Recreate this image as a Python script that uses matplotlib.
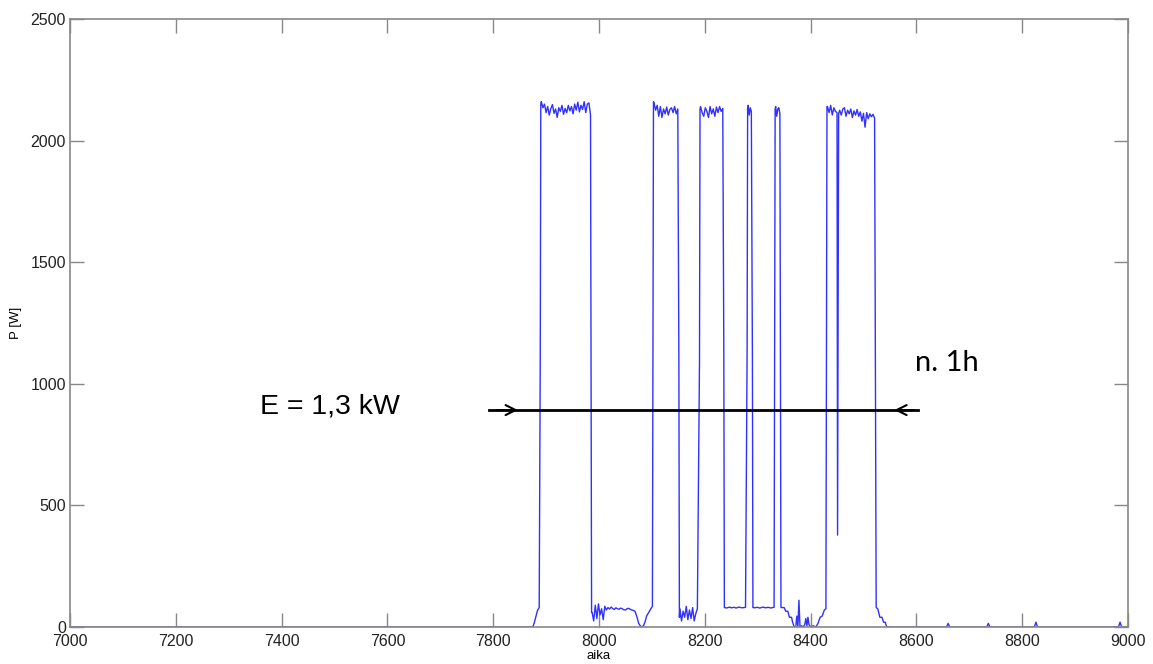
import matplotlib.pyplot as plt

# Power measurement (P [W]) vs time (aika)
# each segment: start time, time step, values
baseline_t = [7000, 7874]
baseline_p = [0, 0]

ramp1_t = [7875, 7878, 7881, 7884, 7887, 7889, 7890]
ramp1_p = [0, 20, 45, 70, 80, 1120, 2150]

top1 = [2160, 2135, 2150, 2115, 2140, 2105, 2132, 2148, 2112, 2130, 2095, 2135,
        2120, 2145, 2108, 2132, 2115, 2145, 2122, 2140, 2110, 2150, 2125, 2158,
        2118, 2145, 2128, 2160, 2115, 2150, 2155, 2105]
fall1_t = [7985, 7986]
fall1_p = [1120, 60]

low1 = [60, 25, 90, 35, 95, 50, 75, 30, 85, 70, 80, 74, 82, 76, 72, 79, 75, 73,
        78, 75, 71, 70, 75, 77, 73, 70, 68, 65]
dip_t = [8072, 8075, 8078, 8081, 8084, 8087, 8090, 8094, 8098, 8101, 8102, 8103]
dip_p = [40, 15, 5, 0, 5, 20, 45, 60, 75, 85, 1150, 2160]

top2 = [2155, 2125, 2145, 2100, 2140, 2095, 2130, 2110, 2138, 2105, 2128, 2135,
        2115, 2140, 2110, 2130]
fall2_t = [8151, 8152]
fall2_p = [1120, 40]

low2 = [75, 25, 65, 40, 85, 30, 70, 35, 80, 25, 55, 75]
rise3_t = [8190, 8191]
rise3_p = [1090, 2130]

top3 = [2140, 2115, 2100, 2135, 2120, 2095, 2140, 2110, 2130, 2100, 2138, 2115,
        2140, 2120, 2132]
fall3_t = [8236, 8237]
fall3_p = [1120, 80]

low3 = [80, 78, 80, 82, 79, 80, 81, 78, 80, 82, 80, 79, 80, 81]
rise4_t = [8280, 8281]
rise4_p = [1120, 2135]

top4 = [2145, 2105, 2135, 2120]
fall4_t = [8290, 8291]
fall4_p = [1120, 80]

low4 = [80, 79, 81, 80, 78, 80, 82, 80, 79, 81, 80, 78, 80, 81]
rise5_t = [8332, 8333]
rise5_p = [1120, 2130]

top5 = [2140, 2100, 2130, 2135, 2110]
tail5_t = [8343, 8344, 8350, 8353, 8357, 8360, 8364, 8366, 8369, 8372, 8374, 8376,
           8378, 8380, 8383, 8386, 8389, 8391, 8393, 8395, 8397, 8400, 8405, 8410,
           8414, 8418, 8422, 8426, 8429, 8430, 8431]
tail5_p = [1100, 80, 80, 65, 65, 40, 40, 20, 0, 0, 45, 0,
           110, 0, 5, 0, 10, 35, 5, 40, 10, 0, 5, 0,
           15, 40, 45, 70, 75, 1100, 2140]

top6a = [2140, 2115, 2145, 2105, 2135, 2120]
spike_t = [8450, 8451, 8452, 8453]
spike_p = [2115, 378, 1240, 2110]
top6b = [2125, 2105, 2130, 2135, 2100, 2125, 2110, 2130, 2095, 2122, 2105, 2128,
         2100, 2118, 2080, 2112, 2055, 2115, 2090, 2110, 2098, 2108, 2092]
end_t = [8524, 8527, 8531, 8535, 8538, 8541, 8544, 8657, 8660, 8663, 8733, 8736,
         8739, 8823, 8826, 8829, 8982, 8985, 8988, 9000]
end_p = [80, 75, 40, 40, 20, 20, 0, 0, 15, 0, 0, 15,
         0, 0, 20, 0, 0, 20, 0, 0]


def stepped(t0, dt, vals):
    return [t0 + i * dt for i in range(len(vals))], list(vals)


pieces = [
    (baseline_t, baseline_p),
    (ramp1_t, ramp1_p),
    stepped(7891, 3, top1),
    (fall1_t, fall1_p),
    stepped(7987, 3, low1),
    (dip_t, dip_p),
    stepped(8104, 3, top2),
    (fall2_t, fall2_p),
    stepped(8153, 3, low2),
    (rise3_t, rise3_p),
    stepped(8192, 3, top3),
    (fall3_t, fall3_p),
    stepped(8238, 3, low3),
    (rise4_t, rise4_p),
    stepped(8282, 2, top4),
    (fall4_t, fall4_p),
    stepped(8292, 3, low4),
    (rise5_t, rise5_p),
    stepped(8334, 2, top5),
    (tail5_t, tail5_p),
    stepped(8432, 3, top6a),
    (spike_t, spike_p),
    stepped(8455, 3, top6b),
    (end_t, end_p),
]
t, p = [], []
for pt, pp in pieces:
    t += pt
    p += pp

plt.rcParams['font.family'] = ['Liberation Sans', 'DejaVu Sans']

fig = plt.figure(figsize=(11.53, 6.64), dpi=100)
ax = fig.add_axes([0.0607, 0.0557, 0.9176, 0.9157])

ax.plot(t, p, color='#3030ff', lw=1.0, zorder=2)

# energy arrow
arrow_y = 892
ax.plot([7792, 8603], [arrow_y, arrow_y], color='black', lw=2, zorder=3)
ax.annotate('', xy=(7852, arrow_y), xytext=(7800, arrow_y),
            arrowprops=dict(arrowstyle='->', color='black', lw=1.5,
                            mutation_scale=18), zorder=3)
ax.annotate('', xy=(8553, arrow_y), xytext=(8600, arrow_y),
            arrowprops=dict(arrowstyle='->', color='black', lw=1.5,
                            mutation_scale=18), zorder=3)
ax.text(7491, 905, 'E = 1,3 kW', fontsize=20.5, ha='center', va='center',
        color='black')
ax.text(8658, 1085, 'n. 1h', fontsize=21, ha='center', va='center',
        family=['Lato', 'DejaVu Sans'], color='black')

ax.set_xlim(7000, 9000)
ax.set_ylim(0, 2500)
ax.set_xticks(range(7000, 9001, 200))
ax.set_yticks(range(0, 2501, 500))
ax.tick_params(direction='in', length=10, width=1, color='#888888',
               top=True, right=True, labelsize=11.5, labelcolor='#222222')
ax.tick_params(axis='x', pad=5)
ax.tick_params(axis='y', pad=3)
for s in ax.spines.values():
    s.set_color('#888888')
    s.set_linewidth(1.2)
    s.set_zorder(4)

ax.set_xlabel('aika', fontsize=9.5, labelpad=1)
ax.set_ylabel('P [W]', fontsize=9.5, labelpad=6)

fig.savefig('out.png', dpi=100)
